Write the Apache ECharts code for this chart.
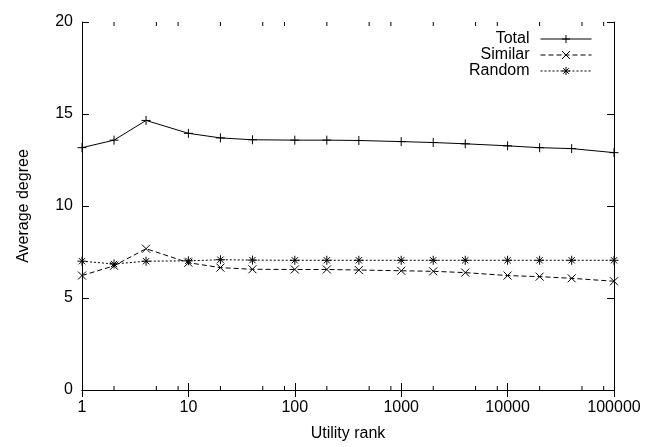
<!DOCTYPE html>
<html>
<head>
<meta charset="utf-8">
<script src="https://cdn.jsdelivr.net/npm/echarts@6/dist/echarts.min.js"></script>
<style>
  html, body { margin: 0; padding: 0; background: #fff; }
  #chart { width: 656px; height: 447px; }
</style>
</head>
<body>
<div id="chart"></div>
<script>
// Utility rank (x) and average degree per group
const ranks   = [1, 2, 4, 10, 20, 40, 100, 200, 400, 1000, 2000, 4000, 10000, 20000, 40000, 100000];
const total   = [13.17, 13.58, 14.65, 13.95, 13.70, 13.60, 13.58, 13.58, 13.56, 13.50, 13.45, 13.38, 13.27, 13.17, 13.12, 12.90];
const similar = [6.22, 6.75, 7.68, 6.92, 6.65, 6.56, 6.55, 6.55, 6.52, 6.48, 6.45, 6.38, 6.22, 6.16, 6.07, 5.91];
const random  = [7.00, 6.85, 7.00, 7.02, 7.08, 7.06, 7.05, 7.05, 7.05, 7.05, 7.05, 7.05, 7.05, 7.05, 7.05, 7.05];
const seriesNames = ['Total', 'Similar', 'Random'];
// minor log ticks drawn at 2, 5, 8 within each decade
const minorTicks = [];
for (let d = 1; d < 100000; d *= 10) { [2, 5, 8].forEach(m => minorTicks.push(m * d)); }

const FONT = '"Liberation Sans", Arial, Helvetica, sans-serif';
const FS = 16;
const plus = 'path://M5,0L5,10M0,5L10,5';
const cross = 'path://M0,0L10,10M10,0L0,10';
const star = 'path://M5,0L5,10M0,5L10,5M1.5,1.5L8.5,8.5M8.5,1.5L1.5,8.5';

function pairs(ys) { return ranks.map((x, i) => [x, ys[i]]); }

const markStyle = { color: 'none', borderColor: '#000', borderWidth: 1 };

const chart = echarts.init(document.getElementById('chart'), null, { renderer: 'canvas' });
chart.setOption({
  animation: false,
  backgroundColor: '#fff',
  grid: { left: 82, right: 42, top: 22, bottom: 53 },
  legend: {
    orient: 'vertical',
    right: 59,
    top: 26,
    align: 'right',
    itemWidth: 51,
    itemHeight: 10,
    itemGap: 0,
    lineStyle: { width: 1 },
    itemStyle: { borderWidth: 1 },
    textStyle: { fontFamily: FONT, fontSize: FS, lineHeight: 16, color: '#000', padding: [0, 6, 0, 0] },
    data: seriesNames
  },
  xAxis: [
    {
      type: 'log', logBase: 10, min: 1, max: 100000,
      position: 'bottom',
      name: 'Utility rank', nameLocation: 'middle', nameGap: 36,
      nameTextStyle: { fontFamily: FONT, fontSize: FS, color: '#000' },
      axisLine: { lineStyle: { color: '#000', width: 1 } },
      axisTick: { inside: true, length: 7, lineStyle: { color: '#000' } },
      axisLabel: { fontFamily: FONT, fontSize: FS, color: '#000', margin: 10, formatter: v => String(v) },
      splitLine: { show: false }
    },
    {
      type: 'log', logBase: 10, min: 1, max: 100000,
      position: 'top',
      axisLine: { lineStyle: { color: '#000', width: 1 } },
      axisTick: { inside: true, length: 7, lineStyle: { color: '#000' } },
      axisLabel: { show: false },
      splitLine: { show: false }
    }
  ],
  yAxis: [
    {
      type: 'value', min: 0, max: 20, interval: 5,
      position: 'left',
      name: 'Average degree', nameLocation: 'middle', nameGap: 50,
      nameTextStyle: { fontFamily: FONT, fontSize: FS, color: '#000' },
      axisLine: { show: true, lineStyle: { color: '#000', width: 1 } },
      axisTick: { show: true, inside: true, length: 7, lineStyle: { color: '#000' } },
      axisLabel: { fontFamily: FONT, fontSize: FS, color: '#000', margin: 9 },
      splitLine: { show: false }
    },
    {
      type: 'value', min: 0, max: 20, interval: 5,
      position: 'right',
      axisLine: { show: true, lineStyle: { color: '#000', width: 1 } },
      axisTick: { show: true, inside: true, length: 7, lineStyle: { color: '#000' } },
      axisLabel: { show: false },
      splitLine: { show: false }
    }
  ],
  series: [
    {
      name: 'Total', type: 'line', data: pairs(total),
      symbol: plus, symbolSize: 9, showAllSymbol: true,
      lineStyle: { color: '#000', width: 1, type: 'solid' },
      itemStyle: markStyle, color: '#000'
    },
    {
      name: 'Similar', type: 'line', data: pairs(similar),
      symbol: cross, symbolSize: 8, showAllSymbol: true,
      lineStyle: { color: '#000', width: 1, type: [5, 3] },
      itemStyle: markStyle, color: '#000'
    },
    {
      name: 'Random', type: 'line', data: pairs(random),
      symbol: star, symbolSize: 9, showAllSymbol: true,
      lineStyle: { color: '#000', width: 1, type: [2, 2] },
      itemStyle: markStyle, color: '#000'
    },
    {
      // short minor tick marks on the bottom and top frame edges
      type: 'custom', silent: true, data: minorTicks,
      renderItem: function (params, api) {
        const v = api.value(0);
        const b = api.coord([v, 0]);
        const t = api.coord([v, 20]);
        return {
          type: 'group',
          children: [
            { type: 'line', shape: { x1: b[0], y1: b[1], x2: b[0], y2: b[1] - 4 }, style: { stroke: '#000', lineWidth: 1 } },
            { type: 'line', shape: { x1: t[0], y1: t[1], x2: t[0], y2: t[1] + 4 }, style: { stroke: '#000', lineWidth: 1 } }
          ]
        };
      }
    }
  ]
});
</script>
</body>
</html>
